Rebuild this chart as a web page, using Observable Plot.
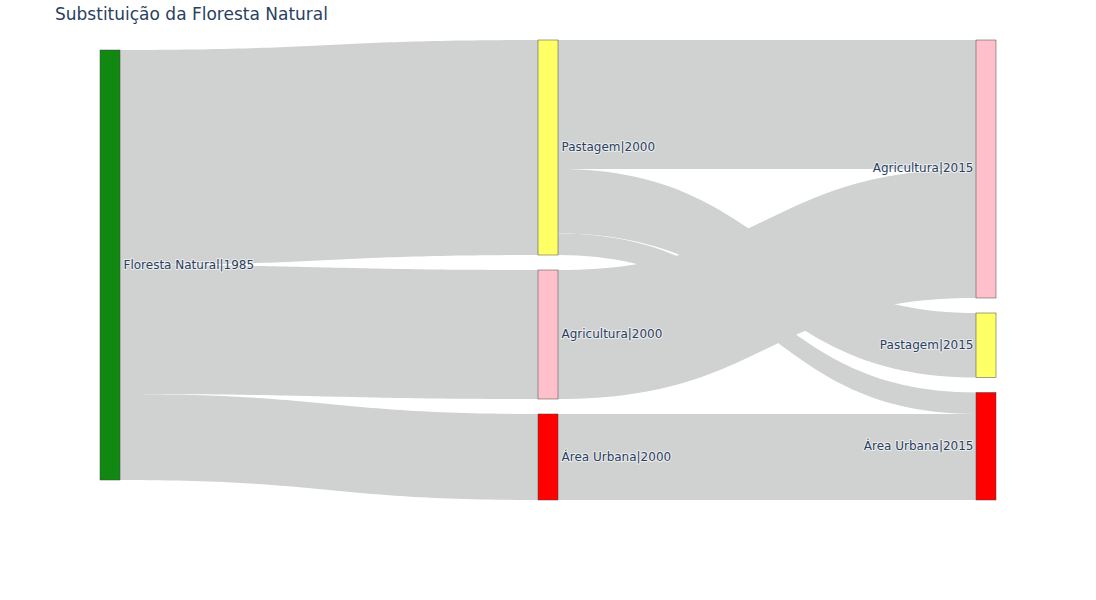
<!DOCTYPE html>
<html><head><meta charset="utf-8">
<script src="https://cdn.jsdelivr.net/npm/d3@7"></script>
<script src="https://cdn.jsdelivr.net/npm/@observablehq/plot@0.6"></script>
<style>
body{margin:0;background:#fff;}
#wrap{position:relative;width:1096px;height:600px;}
#title{position:absolute;left:55px;top:3px;font-family:"DejaVu Sans",Verdana,sans-serif;font-size:17px;line-height:22px;color:#2a3f5f;white-space:nowrap;}
</style></head><body>
<div id="wrap"><div id="chart"></div><div id="title">Substituição da Floresta Natural</div></div>
<script>
// ---- data ----
const nodeLabels = ["Floresta Natural|1985", "Pastagem|2000", "Agricultura|2000", "Área Urbana|2000", "Agricultura|2015", "Pastagem|2015", "Área Urbana|2015"];
const nodeColumns = [0, 1, 1, 1, 2, 2, 2];
const nodeColors = ["#118811", "#ffff66", "#ffc0cb", "#ff0000", "#ffc0cb", "#ffff66", "#ff0000"];
const linkSources = [0, 0, 0, 1, 1, 1, 2, 3];
const linkTargets = [1, 2, 3, 4, 5, 6, 4, 6];
const linkValues = [50, 30, 20, 30, 15, 5, 30, 20];

// ---- layout (sankey) ----
const pxPerUnit = 4.3, gapPx = 15, nodeWidthPx = 20, colSpacingPx = 438;
const gap = gapPx / pxPerUnit;
const nodeW = nodeWidthPx / colSpacingPx;
const colTopOffset = [10 / pxPerUnit, 0, 0];

const nodes = nodeLabels.map((label, i) => {
  const vin = d3.sum(linkValues.filter((v, j) => linkTargets[j] === i));
  const vout = d3.sum(linkValues.filter((v, j) => linkSources[j] === i));
  return {i, label, col: nodeColumns[i], color: nodeColors[i], value: Math.max(vin, vout)};
});
const colCursor = colTopOffset.slice();
for (const n of nodes) {
  n.y0 = colCursor[n.col];
  n.y1 = n.y0 + n.value;
  colCursor[n.col] = n.y1 + gap;
  n.x0 = n.col;
  n.x1 = n.col + nodeW;
}
const links = linkSources.map((s, j) => ({j, s: nodes[s], t: nodes[linkTargets[j]], v: linkValues[j]}));
for (const n of nodes) {
  let c = n.y0;
  for (const l of links.filter(l => l.s === n).sort((a, b) => a.t.y0 - b.t.y0)) { l.sy0 = c; c += l.v; l.sy1 = c; }
  c = n.y0;
  for (const l of links.filter(l => l.t === n).sort((a, b) => a.s.y0 - b.s.y0)) { l.ty0 = c; c += l.v; l.ty1 = c; }
}
const steps = 60;
const linkPts = [];
for (const l of links) {
  const xs = l.s.x1, xt = l.t.x0;
  for (let k = 0; k <= steps; k++) {
    const t = k / steps;
    const fx = 1.5 * t - 1.5 * t * t + t * t * t;
    const fy = 3 * t * t - 2 * t * t * t;
    linkPts.push({link: l.j, x: xs + (xt - xs) * fx,
      y1: l.sy0 + (l.ty0 - l.sy0) * fy, y2: l.sy1 + (l.ty1 - l.sy1) * fy});
  }
}

const font = '"DejaVu Sans", Verdana, sans-serif';
const chart = Plot.plot({
  width: 1096, height: 600, margin: 0,
  style: {fontFamily: font, background: "white"},
  x: {domain: [0, 2], range: [100, 976], axis: null},
  y: {domain: [0, 100 + 2 * gap], range: [40, 500], axis: null},
  color: {type: "identity"},
  marks: [
    Plot.areaY(linkPts, {x: "x", y1: "y1", y2: "y2", z: "link", fill: "#d0d1d1", curve: "linear"}),
    Plot.rect(nodes, {x1: "x0", x2: "x1", y1: "y0", y2: "y1", fill: "color", stroke: "#444", strokeWidth: 0.5}),
    Plot.text(nodes.filter(n => n.col < 2), {x: "x1", y: d => (d.y0 + d.y1) / 2, text: "label", textAnchor: "start", dx: 3, dy: -0.5,
      fill: "#2a3f5f", fontSize: 12, stroke: "white", strokeWidth: 2, strokeOpacity: 0.6}),
    Plot.text(nodes.filter(n => n.col === 2), {x: "x0", y: d => (d.y0 + d.y1) / 2, text: "label", textAnchor: "end", dx: -3, dy: -1,
      fill: "#2a3f5f", fontSize: 12, stroke: "white", strokeWidth: 2, strokeOpacity: 0.6})
  ]
});
document.getElementById("chart").appendChild(chart);
</script>
</body></html>
